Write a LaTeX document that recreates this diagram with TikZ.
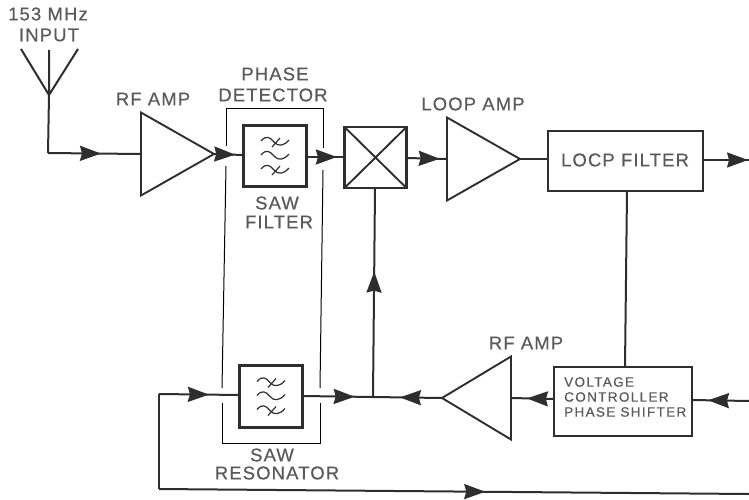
\documentclass[tikz,border=0pt]{standalone}
\usepackage{fontspec}
\usetikzlibrary{shapes.geometric,arrows.meta,decorations.markings}
\newfontfamily\lblfont[LetterSpace=6,FakeBold=0.5]{Liberation Sans}
\newfontfamily\smallfont[LetterSpace=10,FakeBold=0.5]{Liberation Sans}
\definecolor{ink}{HTML}{2E2E2E}
\definecolor{txt}{HTML}{5A5A5A}
\definecolor{thin}{HTML}{777777}
\tikzset{
  x=1pt,y=-1pt,
  wire/.style={draw=ink,line width=2pt,line join=round},
  marrow/.style={postaction={decorate},decoration={markings,mark=at position #1 with {\arrow[ink]{Stealth[length=21pt,width=15pt,inset=2pt]}}}},
  blockbox/.style={draw=ink,line width=2.6pt,inner sep=0pt,outer sep=0pt,anchor=north west},
  ampl/.style={draw=ink,line width=1.9pt,isosceles triangle,isosceles triangle stretches,inner sep=0pt,outer sep=0pt,minimum width=83pt,minimum height=73pt,shape border rotate=#1},
  lbl/.style={text=txt,font=\fontsize{18.5}{18.5}\selectfont\lblfont,inner sep=0pt},
  vcps/.style={text=txt,font=\fontsize{13.5}{13.5}\selectfont\smallfont,inner sep=0pt,anchor=west},
  sawsym/.pic={
    \foreach \dy in {-14,0,14}{
      \draw[ink,line width=1.2pt] (-14,\dy-1) .. controls (-9,\dy-7) and (-5,\dy-5) .. (-1,\dy) .. controls (3,\dy+5) and (9,\dy+4) .. (14,\dy-2);
    }
    \draw[ink,line width=1.2pt] (-3,-9) -- (5,-18) (-3,19) -- (5,10);
  },
}
\begin{document}
\begin{tikzpicture}
\useasboundingbox (0,0) rectangle (749,500);
% group outline
\draw[thin,line width=1pt] (226,146) -- (226,109) -- (323,109) -- (323,148);
\draw[thin,line width=1pt] (226,166) -- (222,388);
\draw[thin,line width=1pt] (323,170) -- (320,388);
\draw[thin,line width=1pt] (222,403) -- (222,443) -- (320,443) -- (320,403);
% blocks
\node[ampl=0,anchor=lower side] (amp1) at (141,154) {};
\node[ampl=0,anchor=lower side] (amp2) at (447,159) {};
\node[ampl=180,minimum height=69pt,anchor=lower side] (amp3) at (511,398) {};
\node[blockbox,minimum width=63pt,minimum height=61pt] (filt) at (243.5,125.5) {};
\node[blockbox,minimum width=63pt,minimum height=62pt] (res) at (239.5,365.5) {};
\node[blockbox,minimum width=62pt,minimum height=61pt] (mix) at (344.5,127) {};
\draw[ink,line width=1.9pt] (mix.north west) -- (mix.south east) (mix.north east) -- (mix.south west);
\node[blockbox,minimum width=155pt,minimum height=60pt] (lf) at (548,131) {};
\node[blockbox,line width=2pt,minimum width=138pt,minimum height=69pt] (vc) at (554,367) {};
\pic at (filt.center) {sawsym};
\pic at (res.center) {sawsym};
% free ends
\coordinate (tip) at (49,95);
\coordinate (a1) at (21,49);
\coordinate (a2) at (49,50);
\coordinate (a3) at (78,49);
\coordinate (corner) at (48,153);
\coordinate (out) at (749,160);
\coordinate (inr) at (749,401);
\coordinate (j) at (373,397);
\coordinate (lb) at (159,394);
\coordinate (lc) at (159,489);
\coordinate (le) at (749,494);
% connectors
\draw[wire] (a1) -- (tip) -- (a3) (a2) -- (tip) -- (corner);
\draw[wire,marrow=0.57] (corner) -- (amp1.lower side);
\draw[wire,marrow=0.72] (amp1.apex) -- (filt.west |- 0,155);
\draw[wire,marrow=0.8] (filt.east |- 0,157) -- (mix.west |- 0,157);
\draw[wire,marrow=0.82] (mix.east |- 0,158) -- (amp2.lower side);
\draw[wire] (amp2.apex) -- (lf.west |- 0,159);
\draw[wire,marrow=0.98] (lf.east |- 0,160) -- (out);
\draw[wire] (lf.south -| 627,0) -- (vc.north -| 625,0);
\draw[wire,marrow=0.72] (inr) -- (vc.east |- 0,400);
\draw[wire,marrow=0.63] (vc.west |- 0,399) -- (amp3.lower side);
\draw[wire,marrow=0.61] (amp3.apex) -- (j);
\draw[wire,marrow=0.74] (res.east |- 0,396) -- (j);
\draw[wire,marrow=0.6] (j) -- (mix.south -| 375,0);
\draw[wire,marrow=0.62] (lb) -- (res.west |- 0,395);
\draw[wire] (lb) -- (lc);
\draw[wire,marrow=0.553] (lc) -- (le);
% labels
\node[lbl] (l1) at (48,14) {153 MHz};
\node[lbl] (l2) at (49,35) {INPUT};
\node[lbl] (l3) at (153,99) {RF AMP};
\node[lbl] (l4) at (275,74) {PHASE};
\node[lbl] (l5) at (273,95) {DETECTOR};
\node[lbl] (l6) at (277,203) {SAW};
\node[lbl] (l7) at (279,222) {FILTER};
\node[lbl] (l8) at (473,104) {LOOP AMP};
\node[lbl] (l9) at (625,160) {LOCP FILTER};
\node[lbl] (l10) at (526,343) {RF AMP};
\node[lbl] (l11) at (272,455) {SAW};
\node[lbl] (l12) at (277,473) {RESONATOR};
\node[vcps] (v1) at (564,382) {VOLTAGE};
\node[vcps] (v2) at (564,397) {CONTROLLER};
\node[vcps] (v3) at (564,412) {PHASE SHIFTER};
\end{tikzpicture}
\end{document}
